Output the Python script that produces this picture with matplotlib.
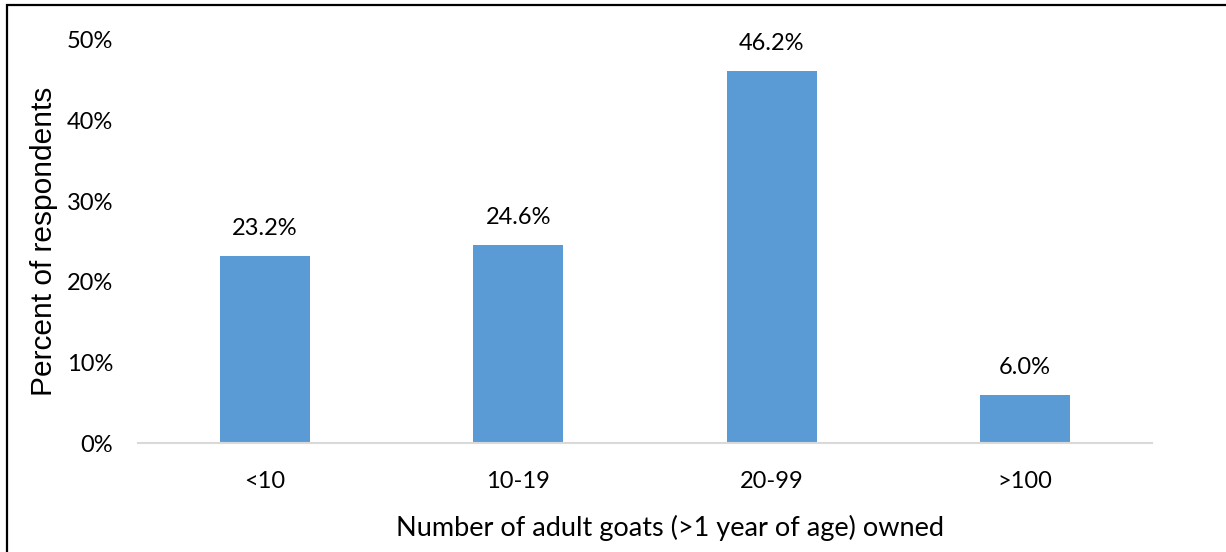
import matplotlib.pyplot as plt
from matplotlib.patches import Rectangle

categories = ['<10', '10-19', '20-99', '>100']
percents = [23.2, 24.6, 46.2, 6.0]
yticks = [0, 10, 20, 30, 40, 50]

fig = plt.figure(figsize=[12.26, 5.52], dpi=100)
ax = fig.add_axes([138 / 1226, 1 - 443 / 552, 1014 / 1226, 403 / 552 * 1.0])

x = range(len(categories))
ax.bar(x, percents, width=0.355, color='#5B9BD5', zorder=2)
for xi, v in zip(x, percents):
    ax.text(xi, v + 2.1, '%.1f%%' % v, ha='center', va='bottom',
            fontsize=17, family='Lato', color='#000000')

ax.set_xlim(-0.5, 3.5)
ax.set_ylim(0, 50)
ax.set_yticks(yticks)
ax.set_yticklabels(['%d%%' % t for t in yticks], family='Lato', fontsize=17)
ax.set_xticks(list(x))
ax.set_xticklabels(categories, family='Lato', fontsize=17)
ax.tick_params(length=0)
ax.tick_params(axis='x', pad=20)
ax.tick_params(axis='y', pad=18)
for s in ['top', 'right', 'left']:
    ax.spines[s].set_visible(False)
ax.spines['bottom'].set_color('#D9D9D9')
ax.spines['bottom'].set_linewidth(1.5)

ax.set_xlabel('Number of adult goats (>1 year of age) owned', family='Lato',
              fontsize=19.5, labelpad=17, x=0.525)
ax.set_ylabel('Percent of respondents', family='Liberation Sans', fontsize=21.5,
              labelpad=6)

# frame around the figure (top and left edges visible)
fig.patches.append(Rectangle((6.5 / 1226, -0.1), 1.2, 1.1 - 5 / 552,
                             transform=fig.transFigure, fill=False,
                             edgecolor='black', linewidth=1.6))

fig.savefig('out.png', dpi=100)
